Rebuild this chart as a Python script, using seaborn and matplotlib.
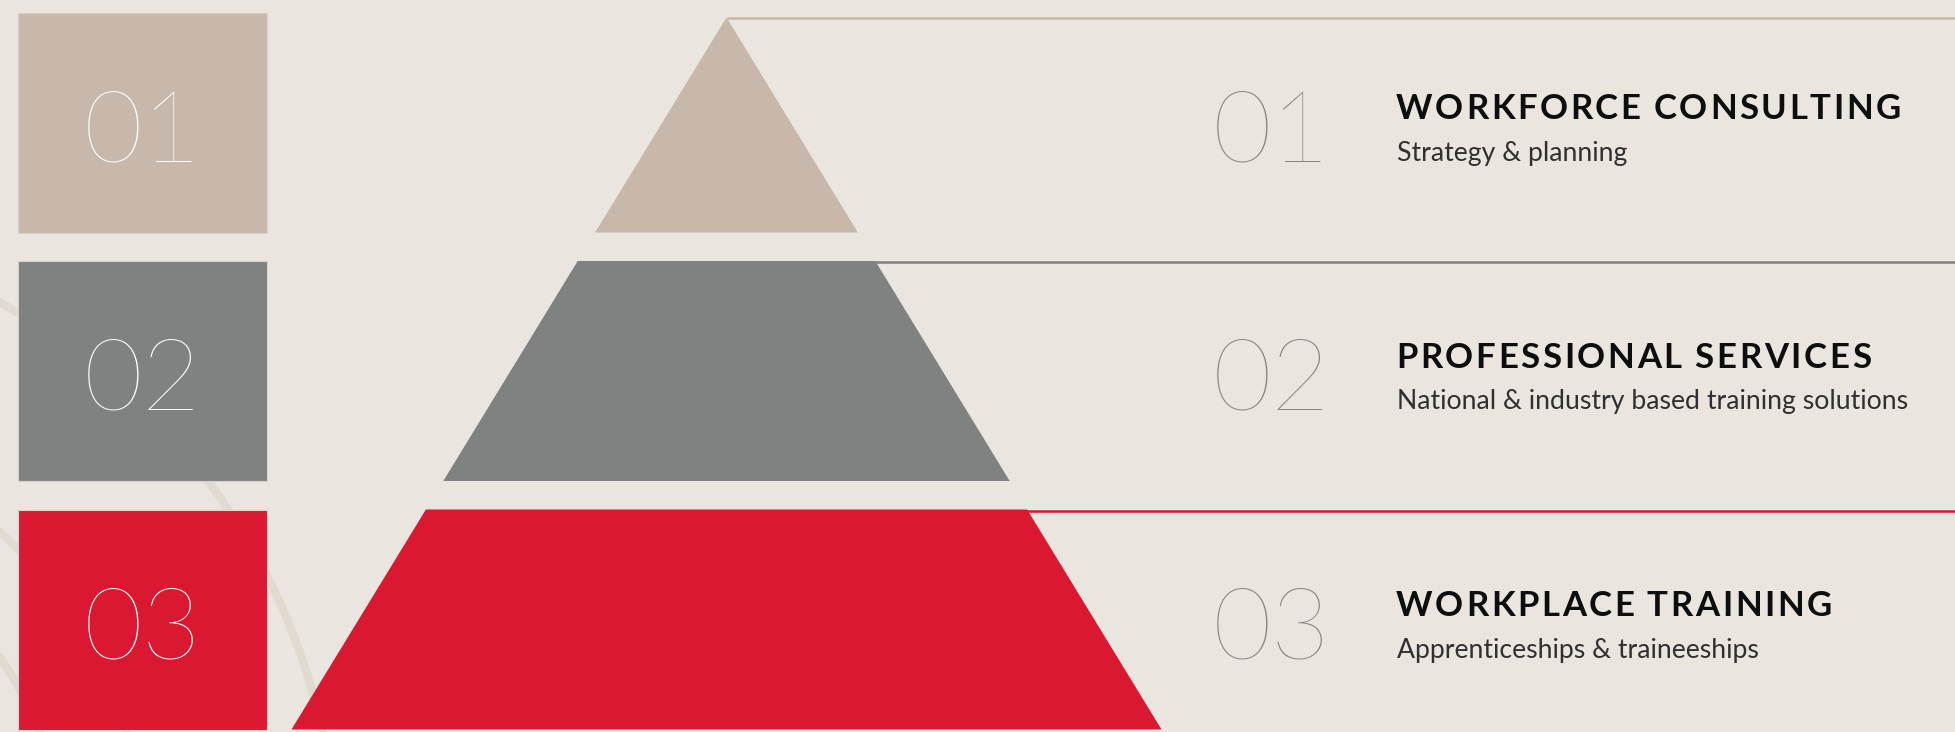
import numpy as np
import pandas as pd
import seaborn as sns
import matplotlib.pyplot as plt
from matplotlib.patches import Rectangle

# content of the three tiers
numbers = ['01', '02', '03']
titles = ['WORKFORCE CONSULTING', 'PROFESSIONAL SERVICES', 'WORKPLACE TRAINING']
subtitles = ['Strategy & planning',
             'National & industry based training solutions',
             'Apprenticeships & traineeships']
tier_colors = ['#C7B8AB', '#7F8280', '#DA1832']

tiers = pd.DataFrame({'number': numbers, 'title': titles,
                      'subtitle': subtitles, 'color': tier_colors})

BG = '#EAE5DF'
ARC = '#E0DAD0'
NUM_GRAY = '#868686'

sns.set_theme(style='white')
plt.rcParams['font.family'] = ['Lato', 'DejaVu Sans']

W, H = 1956, 732
fig = plt.figure(figsize=(W / 100, H / 100), dpi=100)
fig.patch.set_facecolor(BG)
ax = fig.add_axes([0, 0, 1, 1])
ax.set_facecolor(BG)
ax.set_xlim(0, W)
ax.set_ylim(H, 0)
ax.axis('off')
renderer = fig.canvas.get_renderer()

# faint background arcs
t = np.linspace(0, 2 * np.pi, 1000)
for r in [637, 448, 365]:
    ax.plot(-301 + r * np.cos(t), 864 + r * np.sin(t), color=ARC, lw=6, zorder=1)

# layout
row_pitch, row_h, row_y0 = 248.5, 220, 12.5
apex_x, apex_y, slope = 726.5, 17.5, 0.611


def tracked_text(x, y, s, tracking, **kw):
    size_px = kw['fontsize'] * 100 / 72
    for ch in s:
        if ch == ' ':
            x += size_px * 0.22 + tracking
            continue
        txt = ax.text(x, y, ch, ha='left', va='baseline', **kw)
        x += txt.get_window_extent(renderer=renderer).width + tracking


for i, row in tiers.iterrows():
    top = row_y0 + i * row_pitch
    bot = top + row_h

    # left coloured square
    ax.add_patch(Rectangle((18, top), 249, row_h, facecolor=row['color'],
                           edgecolor='#D5D2CC', lw=0.8, zorder=2))
    ax.text(142.5, top + 149, row['number'], ha='center', va='baseline',
            fontsize=73, fontweight=200, color='white', zorder=5)

    # rule line to the right
    yl = max(top + 1, apex_y)
    ax.plot([apex_x, W], [yl, yl], color=row['color'], lw=1.8, zorder=2,
            solid_capstyle='butt')

    # pyramid band
    ytop = max(top, apex_y)
    xs = [apex_x - slope * (ytop - apex_y), apex_x + slope * (ytop - apex_y),
          apex_x + slope * (bot - apex_y), apex_x - slope * (bot - apex_y)]
    ax.fill(xs, [ytop, ytop, bot, bot], color=row['color'], lw=0, zorder=3)

    # right side text
    ax.text(1330, top + 149, row['number'], ha='right', va='baseline',
            fontsize=73, fontweight=200, color=NUM_GRAY, zorder=5)
    tracked_text(1396, top + 106.5, row['title'], 2.6,
                 fontsize=25, fontweight='bold', color='#0E0E0E', zorder=5)
    ax.text(1397, top + 148.5, row['subtitle'], ha='left', va='baseline',
            fontsize=19.2, fontweight='normal', color='#303030', zorder=5)

fig.savefig('out.png', dpi=100, facecolor=BG)
